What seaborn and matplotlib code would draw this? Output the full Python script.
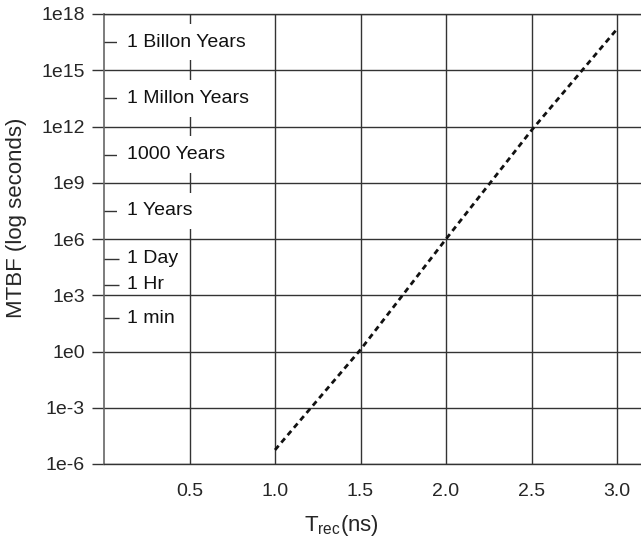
import numpy as np
import pandas as pd
import matplotlib
matplotlib.use("Agg")
import matplotlib.pyplot as plt
import seaborn as sns

# --- data ---
T_REC_NS = [1.0, 1.5, 2.0, 2.5, 3.0]
LOG10_MTBF = [-5.25, 0.1, 6.0, 11.8, 17.2]

Y_TICK_EXP = [-6, -3, 0, 3, 6, 9, 12, 15, 18]
X_TICKS = [0.5, 1.0, 1.5, 2.0, 2.5, 3.0]

# reference durations in seconds
REF_LABELS = ["1 Billon Years", "1 Millon Years", "1000 Years", "1 Years",
              "1 Day", "1 Hr", "1 min"]
REF_SECONDS = [3.15e16, 3.15e13, 3.15e10, 3.15e7, 86400, 3600, 60]

LINE_COL = "#333333"

sns.set_style("white")
plt.rcParams["font.family"] = ["Liberation Sans", "DejaVu Sans"]
plt.rcParams["mathtext.default"] = "regular"

df = pd.DataFrame({"trec": T_REC_NS, "mtbf": np.power(10.0, LOG10_MTBF)})

fig = plt.figure(figsize=(6.41, 5.43), dpi=100)
ax = fig.add_axes([104 / 641, 79 / 543, 537 / 641, 450 / 543])

sns.lineplot(data=df, x="trec", y="mtbf", ax=ax, color="#111111",
             lw=2.0, linestyle=(0, (2.0, 1.5)), zorder=4)

ax.set_yscale("log")
ax.set_xlim(0, 3.14)
ax.set_ylim(1e-6, 1e18)

ax.set_yticks([10.0 ** e for e in Y_TICK_EXP])
ax.set_yticklabels([f"1e{e}" for e in Y_TICK_EXP])
ax.yaxis.set_minor_locator(matplotlib.ticker.NullLocator())
ax.set_xticks(X_TICKS)
ax.set_xticklabels([f"{v:.1f}" for v in X_TICKS])

ax.tick_params(axis="y", left=True, length=8.6, width=1, color=LINE_COL,
               labelsize=14, pad=5)
ax.tick_params(axis="x", bottom=False, length=0, labelsize=14, pad=14)

ax.grid(True, which="major", color=LINE_COL, lw=1)
ax.set_axisbelow(True)
for side in ["top", "bottom"]:
    ax.spines[side].set_color(LINE_COL)
    ax.spines[side].set_linewidth(1)
ax.spines["left"].set_color("#666666")
ax.spines["left"].set_linewidth(1.2)
ax.spines["right"].set_visible(False)

ax.set_xlabel("")
ax.set_ylabel("")

# reference duration marks on the left edge
ax.hlines(REF_SECONDS, 0, 0.085, color=LINE_COL, lw=1, zorder=3)
for lab, sec in zip(REF_LABELS, REF_SECONDS):
    box = None
    if lab.endswith("Years"):
        box = dict(boxstyle="square,pad=0.5", fc="white", ec="none")
    ax.text(0.135, sec, lab, fontsize=14, ha="left", va="center",
            color="#111111", bbox=box, zorder=3)

fig.text(341 / 641, 1 - 526 / 543, r"T$_{rec}$(ns)", fontsize=16,
         ha="center", va="center")
fig.text(17 / 641, 1 - 218 / 543, "MTBF (log seconds)", fontsize=16,
         rotation=90, ha="center", va="center")

fig.savefig("out.png", dpi=100)
